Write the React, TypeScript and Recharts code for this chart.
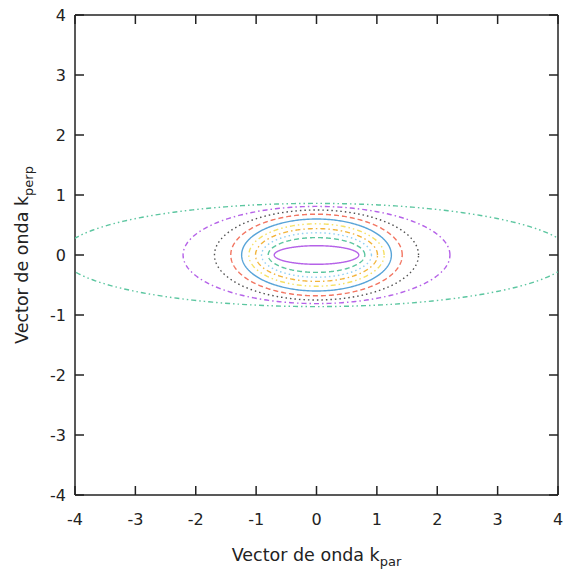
import React from "react";
import { ScatterChart, Scatter, XAxis, YAxis } from "recharts";

// Contour levels: semi-axes of each closed contour (k_par, k_perp)
const semiAxisPar = [0.70, 0.80, 0.91, 1.01, 1.12, 1.24, 1.42, 1.69, 2.21, 4.23];
const semiAxisPerp = [0.155, 0.29, 0.37, 0.44, 0.52, 0.60, 0.68, 0.75, 0.81, 0.86];
const levelColors = [
  "#b562e8", "#5cc6a0", "#90cff2", "#f2b43c", "#f6e064",
  "#58a4d8", "#f27662", "#505050", "#b562e8", "#5cc6a0",
];
const levelDashes = [
  "", "5 3", "1.5 3", "5 3 1.5 3", "5 3 1.5 3 1.5 3",
  "", "5 3", "1.5 3", "5 3 1.5 3", "5 3 1.5 3 1.5 3",
];
const axisTicks = [-4, -3, -2, -1, 0, 1, 2, 3, 4];
const xLabelMain = "Vector de onda k";
const xLabelSub = "par";
const yLabelMain = "Vector de onda k";
const yLabelSub = "perp";

const STEPS = 360;
const contours = semiAxisPar.map((a, i) => {
  const b = semiAxisPerp[i];
  const pts: { x: number; y: number }[] = [];
  for (let s = 0; s <= STEPS; s++) {
    const t = (2 * Math.PI * s) / STEPS;
    pts.push({ x: a * Math.cos(t), y: b * Math.sin(t) });
  }
  return pts;
});

const FONT = "DejaVu Sans, sans-serif";
const AXIS_COLOR = "#222";

const XLabel = (props: any) => {
  const { viewBox } = props;
  const cx = viewBox.x + viewBox.width / 2;
  const cy = viewBox.y + 66;
  return (
    <text x={cx} y={cy} textAnchor="middle" fontFamily={FONT} fontSize={17.5} fill="#222">
      {xLabelMain}
      <tspan dy={5} fontSize={13}>{xLabelSub}</tspan>
    </text>
  );
};

const YLabel = (props: any) => {
  const { viewBox } = props;
  const cx = viewBox.x + 28;
  const cy = viewBox.y + viewBox.height / 2;
  return (
    <text
      x={cx}
      y={cy}
      textAnchor="middle"
      fontFamily={FONT}
      fontSize={17.5}
      fill="#222"
      transform={`rotate(-90, ${cx}, ${cy})`}
    >
      {yLabelMain}
      <tspan dy={5} fontSize={13}>{yLabelSub}</tspan>
    </text>
  );
};

const NoLabel = () => <g />;

export default function App() {
  const tickStyle = { fontFamily: FONT, fontSize: 16, fill: "#222" };
  const lineStyle = { stroke: AXIS_COLOR, strokeWidth: 1.5 };
  return (
    <div style={{ position: "absolute", left: 0, top: 0, background: "#fff" }}>
      <ScatterChart width={566} height={575} margin={{ top: 14, right: 7, bottom: 0, left: 0 }}>
        <XAxis
          xAxisId={0}
          type="number"
          dataKey="x"
          domain={[-4, 4]}
          allowDataOverflow
          ticks={axisTicks}
          interval={0}
          height={80}
          tickSize={-9}
          tickMargin={28}
          tick={tickStyle}
          axisLine={lineStyle}
          tickLine={lineStyle}
          label={{ content: <XLabel /> } as any}
        />
        <XAxis
          xAxisId="top"
          orientation="top"
          type="number"
          dataKey="x"
          domain={[-4, 4]}
          allowDataOverflow
          ticks={axisTicks}
          interval={0}
          height={1}
          tickSize={-9}
          tick={<NoLabel />}
          axisLine={lineStyle}
          tickLine={lineStyle}
        />
        <YAxis
          yAxisId={0}
          type="number"
          dataKey="y"
          domain={[-4, 4]}
          allowDataOverflow
          ticks={axisTicks}
          interval={0}
          width={75}
          tickSize={-9}
          tickMargin={18}
          tick={tickStyle}
          axisLine={lineStyle}
          tickLine={lineStyle}
          label={{ content: <YLabel /> } as any}
        />
        <YAxis
          yAxisId="right"
          orientation="right"
          type="number"
          dataKey="y"
          domain={[-4, 4]}
          allowDataOverflow
          ticks={axisTicks}
          interval={0}
          width={1}
          tickSize={-9}
          tick={<NoLabel />}
          axisLine={lineStyle}
          tickLine={lineStyle}
        />
        {contours.map((pts, i) => (
          <Scatter
            key={i}
            data={pts}
            xAxisId={0}
            yAxisId={0}
            fill={levelColors[i]}
            isAnimationActive={false}
            shape={() => null}
            line={{
              stroke: levelColors[i],
              strokeWidth: 1.4,
              strokeDasharray: levelDashes[i] || undefined,
              fill: "none",
            }}
            lineType="joint"
          />
        ))}
        <Scatter
          data={contours[0]}
          xAxisId="top"
          yAxisId="right"
          isAnimationActive={false}
          shape={() => null}
        />
      </ScatterChart>
    </div>
  );
}
